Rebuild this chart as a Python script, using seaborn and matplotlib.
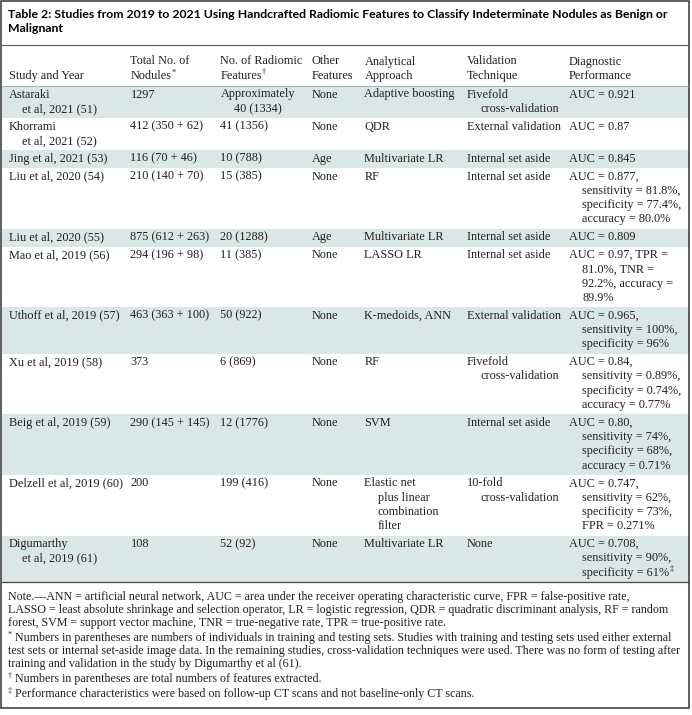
"""Table 2 recreated as a figure: handcrafted radiomic feature studies."""
import re

import matplotlib

matplotlib.use("Agg")
import matplotlib.pyplot as plt  # noqa: E402
import seaborn as sns  # noqa: E402

sns.set_theme(style="white", context="paper")
plt.rcParams["font.family"] = ["Liberation Serif", "DejaVu Serif"]

# ---- table content ("^c" marks a superscript character) ----
title_lines = [
    "Table 2: Studies from 2019 to 2021 Using Handcrafted Radiomic Features to Classify Indeterminate Nodules as Benign or",
    "Malignant",
]
headers = [
    ["", "Study and Year"],
    ["Total No. of", "Nodules^*"],
    ["No. of Radiomic", "Features^†"],
    ["Other", "Features"],
    ["Analytical", "Approach"],
    ["Validation", "Technique"],
    ["Diagnostic", "Performance"],
]
studies = [
    ["Astaraki", "et al, 2021 (51)"],
    ["Khorrami", "et al, 2021 (52)"],
    ["Jing et al, 2021 (53)"],
    ["Liu et al, 2020 (54)"],
    ["Liu et al, 2020 (55)"],
    ["Mao et al, 2019 (56)"],
    ["Uthoff et al, 2019 (57)"],
    ["Xu et al, 2019 (58)"],
    ["Beig et al, 2019 (59)"],
    ["Delzell et al, 2019 (60)"],
    ["Digumarthy", "et al, 2019 (61)"],
]
nodules = [
    ["1297"], ["412 (350 + 62)"], ["116 (70 + 46)"], ["210 (140 + 70)"],
    ["875 (612 + 263)"], ["294 (196 + 98)"], ["463 (363 + 100)"], ["373"],
    ["290 (145 + 145)"], ["200"], ["108"],
]
radiomic = [
    ["Approximately", "40 (1334)"], ["41 (1356)"], ["10 (788)"], ["15 (385)"],
    ["20 (1288)"], ["11 (385)"], ["50 (922)"], ["6 (869)"], ["12 (1776)"],
    ["199 (416)"], ["52 (92)"],
]
other = [["None"], ["None"], ["Age"], ["None"], ["Age"], ["None"], ["None"],
         ["None"], ["None"], ["None"], ["None"]]
approach = [
    ["Adaptive boosting"], ["QDR"], ["Multivariate LR"], ["RF"],
    ["Multivariate LR"], ["LASSO LR"], ["K-medoids, ANN"], ["RF"], ["SVM"],
    ["Elastic net", "plus linear", "combination", "filter"], ["Multivariate LR"],
]
validation = [
    ["Fivefold", "cross-validation"], ["External validation"],
    ["Internal set aside"], ["Internal set aside"], ["Internal set aside"],
    ["Internal set aside"], ["External validation"],
    ["Fivefold", "cross-validation"], ["Internal set aside"],
    ["10-fold", "cross-validation"], ["None"],
]
performance = [
    ["AUC = 0.921"],
    ["AUC = 0.87"],
    ["AUC = 0.845"],
    ["AUC = 0.877,", "sensitivity = 81.8%,", "specificity = 77.4%,", "accuracy = 80.0%"],
    ["AUC = 0.809"],
    ["AUC = 0.97, TPR =", "81.0%, TNR =", "92.2%, accuracy =", "89.9%"],
    ["AUC = 0.965,", "sensitivity = 100%,", "specificity = 96%"],
    ["AUC = 0.84,", "sensitivity = 0.89%,", "specificity = 0.74%,", "accuracy = 0.77%"],
    ["AUC = 0.80,", "sensitivity = 74%,", "specificity = 68%,", "accuracy = 0.71%"],
    ["AUC = 0.747,", "sensitivity = 62%,", "specificity = 73%,", "FPR = 0.271%"],
    ["AUC = 0.708,", "sensitivity = 90%,", "specificity = 61%^‡"],
]
footnotes = [
    [
        "Note.—ANN = artificial neural network, AUC = area under the receiver operating characteristic curve, FPR = false-positive rate,",
        "LASSO = least absolute shrinkage and selection operator, LR = logistic regression, QDR = quadratic discriminant analysis, RF = random",
        "forest, SVM = support vector machine, TNR = true-negative rate, TPR = true-positive rate.",
    ],
    [
        "^* Numbers in parentheses are numbers of individuals in training and testing sets. Studies with training and testing sets used either external",
        "test sets or internal set-aside image data. In the remaining studies, cross-validation techniques were used. There was no form of testing after",
        "training and validation in the study by Digumarthy et al (61).",
    ],
    ["^† Numbers in parentheses are total numbers of features extracted."],
    ["^‡ Performance characteristics were based on follow-up CT scans and not baseline-only CT scans."],
]

columns = [studies, nodules, radiomic, other, approach, validation, performance]

# ---- layout (pixels) ----
W, H = 692, 715
col_x = [9, 130.5, 220.5, 312, 364.5, 467, 569]
indent = 13.5
line_h = 14.3
row_pad = 3.5
body_top = 86
shade = "#d9e7e7"
ink = "#231f20"
rule = "#555555"

fig = plt.figure(figsize=(W / 100, H / 100), dpi=100)
ax = fig.add_axes([0, 0, 1, 1])
ax.set_xlim(0, W)
ax.set_ylim(H, 0)
ax.axis("off")
renderer = fig.canvas.get_renderer()


def text_width(t):
    return t.get_window_extent(renderer).width


def fit_size(s, target, **kw):
    t = ax.text(0, 0, s, fontsize=10, **kw)
    w = text_width(t)
    t.remove()
    return 10 * target / w


def rich(x, y, s, size, color=ink, **kw):
    for part in re.split(r"(\^.)", s):
        if not part:
            continue
        if part.startswith("^"):
            t = ax.text(x, y - size * 0.5, part[1], fontsize=size * 0.68,
                        color=color, va="baseline", **kw)
        else:
            t = ax.text(x, y, part, fontsize=size, color=color, va="baseline", **kw)
        x += text_width(t)


body_size = fit_size("Uthoff et al, 2019 (57)", 110)
note_size = fit_size(footnotes[1][1], 668)
title_kw = dict(family=["Lato", "DejaVu Sans"], fontweight="bold")
title_size = fit_size(title_lines[0], 661, **title_kw)

# title
for i, line in enumerate(title_lines):
    ax.text(8, 18 + 14 * i, line, fontsize=title_size, color="black",
            va="baseline", **title_kw)

ax.plot([1.5, 689], [45, 45], color=rule, lw=0.8)

# header
for x, cell in zip(col_x, headers):
    for j, line in enumerate(cell):
        if line:
            rich(x, 64.5 + j * line_h, line, body_size)
ax.plot([1.5, 689], [body_top, body_top], color="#8a9a9a", lw=0.5)

# body rows
top = body_top
for i in range(len(studies)):
    n = max(len(col[i]) for col in columns)
    h = n * line_h + row_pad
    if i % 2 == 0:
        ax.fill_between([1.5, 689], top, top + h, color=shade, lw=0)
    for x, col in zip(col_x, columns):
        for j, line in enumerate(col[i]):
            rich(x + (indent if j else 0), top + 11.5 + j * line_h, line, body_size)
    top += h

ax.plot([1.5, 689], [top, top], color="#444444", lw=0.9)

# footnotes
y = top + 18
for para in footnotes:
    for line in para:
        rich(8, y, line, note_size)
        y += 13
    y += 2

ax.add_patch(plt.Rectangle((1.2, 1.2), 688, 706.5, fill=False,
                           ec="#333333", lw=1.1))

fig.savefig("out.png", dpi=100)
plt.close(fig)
